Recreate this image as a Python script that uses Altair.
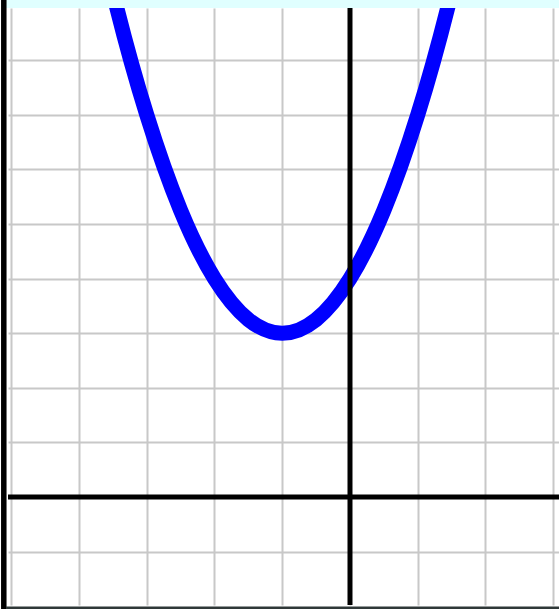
import altair as alt
import pandas as pd

# Curve y = (x + 1)^2 + 3 sampled at half-unit steps
curve_x = [-4.0, -3.5, -3.0, -2.5, -2.0, -1.5, -1.0, -0.5, 0.0, 0.5, 1.0, 1.5, 2.0]
curve_y = [12.0, 9.25, 7.0, 5.25, 4.0, 3.25, 3.0, 3.25, 4.0, 5.25, 7.0, 9.25, 12.0]

# Grid positions (one unit per cell)
grid_x = [-5, -4, -3, -2, -1, 0, 1, 2, 3]
grid_y = [-1, 0, 1, 2, 3, 4, 5, 6, 7, 8]

x_domain = [-5.048, 3.085]
y_domain = [-1.978, 8.956]

W, H = 551, 597

curve = pd.DataFrame({"x": curve_x, "y": curve_y})
origin = pd.DataFrame({"x": [0], "y": [0]})

xs = alt.Scale(domain=x_domain, nice=False, zero=False)
ys = alt.Scale(domain=y_domain, nice=False, zero=False)

grid_axis_x = alt.Axis(values=grid_x, grid=True, labels=False, ticks=False,
                       domain=False, title=None, gridColor="#c8c8c8", gridWidth=2,
                       gridOpacity=1)
grid_axis_y = alt.Axis(values=grid_y, grid=True, labels=False, ticks=False,
                       domain=False, title=None, gridColor="#c8c8c8", gridWidth=2,
                       gridOpacity=1)

base_grid = alt.Chart(origin).mark_point(opacity=0).encode(
    x=alt.X("x:Q", scale=xs, axis=grid_axis_x),
    y=alt.Y("y:Q", scale=ys, axis=grid_axis_y),
)

y_axis_line = alt.Chart(origin).mark_rule(color="black", strokeWidth=5).encode(
    x=alt.X("x:Q", scale=xs),
)
x_axis_line = alt.Chart(origin).mark_rule(color="black", strokeWidth=5).encode(
    y=alt.Y("y:Q", scale=ys),
)

parabola = alt.Chart(curve).mark_line(
    color="#0000ff", strokeWidth=15, interpolate="natural", clip=True
).encode(
    x=alt.X("x:Q", scale=xs),
    y=alt.Y("y:Q", scale=ys),
    order="x:Q",
)

# Frame decorations around the plot
top_band = alt.Chart(origin).mark_rule(color="#e0ffff", strokeWidth=8, clip=False).encode(
    x=alt.value(-2), x2=alt.value(W), y=alt.value(-4)
)
left_bar = alt.Chart(origin).mark_rule(color="black", strokeWidth=5.5, clip=False).encode(
    x=alt.value(-4.2), y=alt.value(-8), y2=alt.value(H + 4)
)
bottom_bar = alt.Chart(origin).mark_rule(color="#2f3838", strokeWidth=2.5, clip=False).encode(
    x=alt.value(-2), x2=alt.value(W), y=alt.value(H + 2.8)
)

chart = alt.layer(
    base_grid, parabola, y_axis_line, x_axis_line, top_band, left_bar, bottom_bar
).properties(
    width=W, height=H,
    autosize=alt.AutoSizeParams(type="none"),
    padding={"left": 8, "top": 8, "right": 0, "bottom": 4},
    background="white",
).configure_view(stroke=None, fill="white")

chart.save("out.html", embed_options={"renderer": "svg", "actions": False})
